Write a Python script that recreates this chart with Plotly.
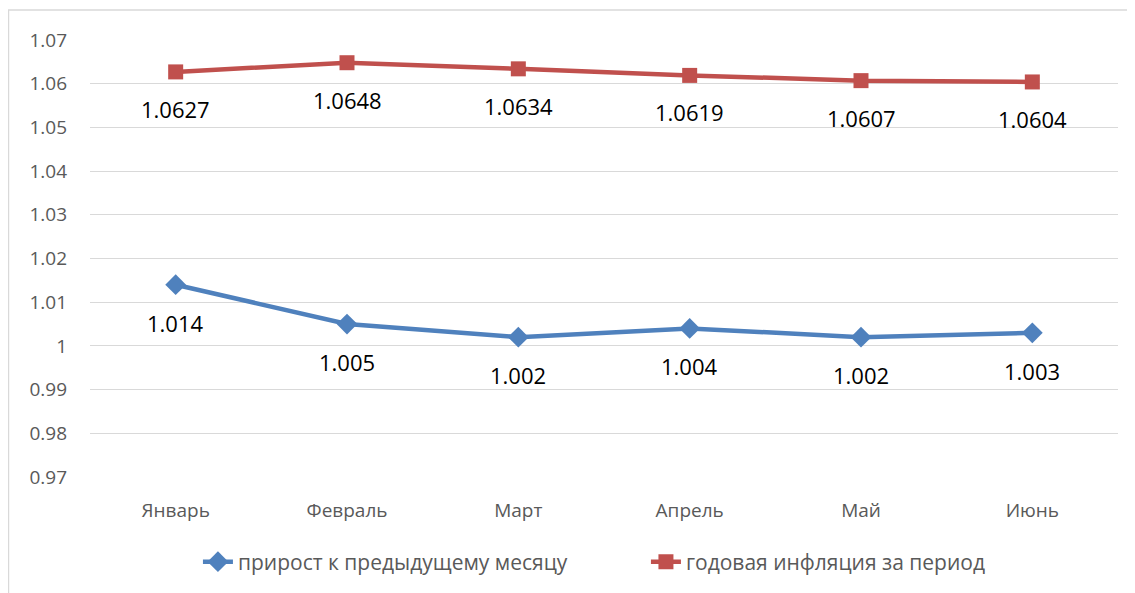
import plotly.graph_objects as go

months = ["Январь", "Февраль", "Март", "Апрель", "Май", "Июнь"]
monthly = [1.014, 1.005, 1.002, 1.004, 1.002, 1.003]
annual = [1.0627, 1.0648, 1.0634, 1.0619, 1.0607, 1.0604]
monthly_labels = ["1.014", "1.005", "1.002", "1.004", "1.002", "1.003"]
annual_labels = ["1.0627", "1.0648", "1.0634", "1.0619", "1.0607", "1.0604"]
tick_vals = [0.97, 0.98, 0.99, 1.00, 1.01, 1.02, 1.03, 1.04, 1.05, 1.06, 1.07]
tick_text = ["0.97", "0.98", "0.99", "1", "1.01", "1.02", "1.03", "1.04", "1.05", "1.06", "1.07"]

BLUE = "#4F81BD"
RED = "#C0504D"
FONT = "Open Sans, sans-serif"

fig = go.Figure()
fig.add_trace(go.Scatter(
    x=months, y=monthly, mode="lines+markers", name="прирост к предыдущему месяцу",
    line=dict(color=BLUE, width=4.5),
    marker=dict(symbol="diamond", size=16, color=BLUE),
))
fig.add_trace(go.Scatter(
    x=months, y=annual, mode="lines+markers", name="годовая инфляция за период",
    line=dict(color=RED, width=4.5),
    marker=dict(symbol="square", size=15, color=RED),
))

annotations = []
for m, v, t in zip(months, monthly, monthly_labels):
    annotations.append(dict(x=m, y=v, text=t, showarrow=False, yshift=-38,
                            font=dict(size=22, color="#000000", family=FONT)))
for m, v, t in zip(months, annual, annual_labels):
    annotations.append(dict(x=m, y=v, text=t, showarrow=False, yshift=-37,
                            font=dict(size=22, color="#000000", family=FONT)))

fig.update_layout(
    width=1127, height=585,
    margin=dict(l=82, r=17, t=32, b=116, autoexpand=False),
    paper_bgcolor="white", plot_bgcolor="white",
    font=dict(family=FONT, color="#595959", size=19),
    showlegend=True,
    legend=dict(orientation="h", x=0.105, xanchor="left", y=-0.1945, yanchor="middle",
                font=dict(size=21, color="#595959", family=FONT),
                entrywidth=403, entrywidthmode="pixels", tracegroupgap=0),
    xaxis=dict(range=[-0.5, 5.5], showgrid=False, zeroline=False, showline=False, ticks="",
               tickfont=dict(size=19, color="#595959"), ticklabelstandoff=20,
               automargin=False),
    yaxis=dict(range=[0.97, 1.07], tickvals=tick_vals, ticktext=tick_text,
               showgrid=True, gridcolor="#D9D9D9", gridwidth=1.3, zeroline=False,
               showline=False, ticks="", tickfont=dict(size=19, color="#595959"),
               ticklabelstandoff=22, automargin=False),
    annotations=annotations,
    shapes=[dict(type="rect", xref="paper", yref="paper",
                 x0=-0.0793, x1=1.2, y0=-0.3, y1=1.0686,
                 line=dict(color="#D9D9D9", width=1.5), fillcolor="rgba(0,0,0,0)",
                 layer="below")],
)

fig.write_html("out.html")
